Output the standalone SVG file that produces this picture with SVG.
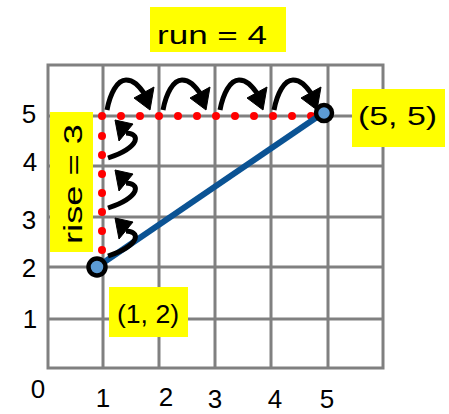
<svg xmlns="http://www.w3.org/2000/svg" xmlns:xlink="http://www.w3.org/1999/xlink" width="449" height="414" viewBox="0 0 449 414">
  <style>
    .grid { stroke: #808080; stroke-width: 3; fill: none; }
    .hl { fill: #ffff00; }
    .t { font-family: "Liberation Sans", "DejaVu Sans", sans-serif; fill: #000; }
    .ax { font-size: 26px; text-anchor: middle; }
    .lbl { font-size: 26px; }
    .dot { fill: #ff0000; }
    .shaft { fill: none; stroke: #000; stroke-width: 5; stroke-linecap: butt; }
    .head { fill: #000; stroke: #000; stroke-width: 1; stroke-linejoin: round; }
    .pt { fill: #5b9bd5; stroke: #000; stroke-width: 4.5; }
  </style>
  <defs>
    <g id="runArrow">
      <path class="shaft" d="M0,0 C 3,-16 10,-30 19,-30 C 28,-30 33,-22 37,-17"/>
      <polygon class="head" points="27,-12 47,-23 43,0"/>
    </g>
    <g id="riseArrow">
      <path class="shaft" d="M0,0 C 12,-4 24,-10 27,-17 C 29,-22 24,-25 18,-25"/>
      <polygon class="head" points="7,-38 11,-17 25,-34"/>
    </g>
  </defs>

  <g id="grid">
    <rect class="grid" x="48" y="65" width="335" height="303"/>
    <path class="grid" d="M103,65V368 M159,65V368 M215,65V368 M271,65V368 M328,65V368 M48,116H383 M48,166H383 M48,217H383 M48,267H383 M48,319H383"/>
  </g>

  <g id="axis-labels" class="t ax">
    <text x="29" y="123">5</text>
    <text x="30" y="171">4</text>
    <text x="29" y="229">3</text>
    <text x="29" y="277">2</text>
    <text x="30" y="328">1</text>
    <text x="38" y="398">0</text>
    <text x="103" y="407">1</text>
    <text x="166" y="406">2</text>
    <text x="215" y="408">3</text>
    <text x="275" y="408">4</text>
    <text x="327" y="408">5</text>
  </g>

  <g id="run-label">
    <rect class="hl" x="150" y="7" width="136" height="45"/>
    <text class="t lbl" x="157" y="44" font-size="27" textLength="110" lengthAdjust="spacingAndGlyphs">run = 4</text>
  </g>

  <g id="rise-label">
    <rect class="hl" x="50" y="112" width="43" height="140"/>
    <text class="t lbl" transform="translate(82,184) rotate(-90)" x="0" y="0" text-anchor="middle" textLength="120" lengthAdjust="spacingAndGlyphs">rise = 3</text>
  </g>

  <g id="label-5-5">
    <rect class="hl" x="352" y="89" width="93" height="58"/>
    <text class="t lbl" x="358" y="125" font-size="25" textLength="79" lengthAdjust="spacingAndGlyphs">(5, 5)</text>
  </g>

  <g id="label-1-2">
    <rect class="hl" x="109" y="287" width="79" height="50"/>
    <text class="t lbl" x="117" y="323" font-size="25" textLength="62" lengthAdjust="spacingAndGlyphs">(1, 2)</text>
  </g>

  <g id="dots">
    <circle class="dot" cx="102" cy="116" r="4"/>
    <circle class="dot" cx="121" cy="116" r="4"/>
    <circle class="dot" cx="140" cy="116" r="4"/>
    <circle class="dot" cx="159" cy="116" r="4"/>
    <circle class="dot" cx="178" cy="116" r="4"/>
    <circle class="dot" cx="197" cy="116" r="4"/>
    <circle class="dot" cx="216" cy="116" r="4"/>
    <circle class="dot" cx="235" cy="116" r="4"/>
    <circle class="dot" cx="254" cy="116" r="4"/>
    <circle class="dot" cx="273" cy="116" r="4"/>
    <circle class="dot" cx="292" cy="116" r="4"/>
    <circle class="dot" cx="311" cy="116" r="4"/>
    <circle class="dot" cx="102" cy="136" r="4"/>
    <circle class="dot" cx="102" cy="155" r="4"/>
    <circle class="dot" cx="102" cy="174" r="4"/>
    <circle class="dot" cx="102" cy="193" r="4"/>
    <circle class="dot" cx="102" cy="212" r="4"/>
    <circle class="dot" cx="102" cy="231" r="4"/>
    <circle class="dot" cx="102" cy="250" r="4"/>
  </g>

  <g id="connectors">
    <line x1="97" y1="267" x2="323" y2="113" stroke="#0b5394" stroke-width="6"/>
    <use xlink:href="#runArrow" href="#runArrow" transform="translate(107,110)"/>
    <use xlink:href="#runArrow" href="#runArrow" transform="translate(163,110)"/>
    <use xlink:href="#runArrow" href="#runArrow" transform="translate(220,110)"/>
    <use xlink:href="#runArrow" href="#runArrow" transform="translate(274,110)"/>
    <use xlink:href="#riseArrow" href="#riseArrow" transform="translate(108,158)"/>
    <use xlink:href="#riseArrow" href="#riseArrow" transform="translate(108,208)"/>
    <use xlink:href="#riseArrow" href="#riseArrow" transform="translate(108,256)"/>
  </g>

  <g id="point-1-2">
    <circle class="pt" cx="97" cy="267" r="8.5"/>
  </g>
  <g id="point-5-5">
    <circle class="pt" cx="324" cy="113" r="8"/>
  </g>
</svg>
